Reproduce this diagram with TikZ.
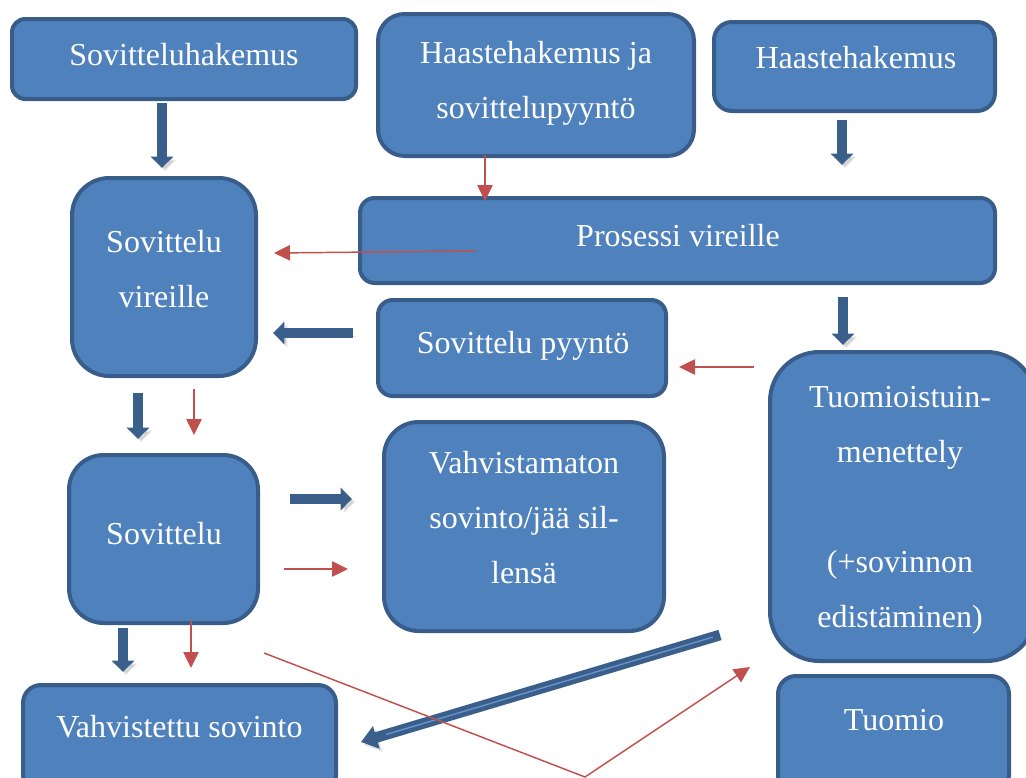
\documentclass[tikz,border=0pt]{standalone}
\usepackage{fontspec}
\setmainfont{Liberation Serif}
\usetikzlibrary{arrows.meta,calc}
\definecolor{boxfill}{HTML}{4F81BD}
\definecolor{boxline}{HTML}{385D8A}
\definecolor{bluearrow}{HTML}{3A5F8B}
\definecolor{redarrow}{HTML}{C0504D}
\definecolor{shaftlight}{HTML}{6A95CC}
\begin{document}
\begin{tikzpicture}[x=0.75pt,y=-0.75pt,
  box/.style={draw=boxline, fill=boxfill, line width=3pt, inner sep=0pt, outer sep=0pt},
  lbl/.style={text=white, font=\fontsize{24}{41.25}\selectfont, align=center, inner sep=0pt},
  arrshadow/.style={preaction={draw=black!60, fill=black!60, opacity=0.18, transform canvas={shift={(2.2pt,-2.2pt)}}}},
  bluearr/.style={draw=bluearrow, line width=7.5pt, -{Triangle[width=16.5pt,length=8.5pt]}, arrshadow},
  redarr/.style={draw=redarrow, line width=1.1pt, -{Triangle[width=11.5pt,length=12pt]}}]
\useasboundingbox (0,0) rectangle (1026,778);
\clip (0,0) rectangle (1026,778);

% boxes
\node[box, rounded corners=10pt, minimum width=258pt, minimum height=60pt] (b1) at (184,59) {};
\node[box, rounded corners=20pt, minimum width=237pt, minimum height=106.5pt] (b2) at (536,85) {};
\node[box, rounded corners=13.5pt, minimum width=210.75pt, minimum height=66.75pt] (b3) at (854.5,66.5) {};
\node[box, rounded corners=28pt, minimum width=138pt, minimum height=148.5pt] (b4) at (164,277) {};
\node[box, rounded corners=11pt, minimum width=476.25pt, minimum height=63.75pt] (b5) at (677.5,240.5) {};
\node[box, rounded corners=11pt, minimum width=216pt, minimum height=72pt] (b6) at (522,348) {};
\node[box, rounded corners=37pt, minimum width=199.5pt, minimum height=231.75pt] (b7) at (903,506.5) {};
\node[box, rounded corners=26pt, minimum width=141.75pt, minimum height=126pt] (b8) at (163.5,539) {};
\node[box, rounded corners=26pt, minimum width=210pt, minimum height=156.75pt] (b9) at (524,526.5) {};
\node[box, rounded corners=13.5pt, minimum width=234.75pt, minimum height=81pt] (b10) at (179.5,739) {};
\node[box, rounded corners=13.5pt, minimum width=173.25pt, minimum height=87.75pt] (b11) at (893.5,734.5) {};

% labels
\node[lbl, anchor=base] (t1) at (184,65) {Sovitteluhakemus};
\node[lbl] (t2) at (536,83) {Haastehakemus ja\\sovittelupyyntö};
\node[lbl, anchor=base] (t3) at (856,68) {Haastehakemus};
\node[lbl] (t4) at (164,268.6) {Sovittelu\\vireille};
\node[lbl, anchor=base] (t5) at (678,246) {Prosessi vireille};
\node[lbl, anchor=base] (t6) at (523,353) {Sovittelu pyyntö};
\node[lbl] (t7) at (900,510) {Tuomioistuin-\\menettely\\[41.25pt](+sovinnon\\edistäminen)};
\node[lbl, anchor=base] (t8) at (164,544) {Sovittelu};
\node[lbl] (t9) at (524,518) {Vahvistamaton\\sovinto/jää sil-\\lensä};
\node[lbl, anchor=base] (t10) at (179.5,737) {Vahvistettu sovinto};
\node[lbl, anchor=base] (t11) at (894,730) {Tuomio};

% arrow end points
\coordinate (A1) at (162,103); \coordinate (A2) at (162,168);
\coordinate (B1) at (842,120); \coordinate (B2) at (842,165);
\coordinate (C1) at (843,297); \coordinate (C2) at (843,345);
\coordinate (D1) at (353,333); \coordinate (D2) at (273,333);
\coordinate (E1) at (138,393); \coordinate (E2) at (138,439);
\coordinate (F1) at (290,499); \coordinate (F2) at (352,499);
\coordinate (G1) at (123,628); \coordinate (G2) at (123,672);
\coordinate (H1) at (720,635); \coordinate (H2) at (361,742);

\coordinate (ra1) at (485,155); \coordinate (ra2) at (485,201);
\coordinate (rb1) at (476,251); \coordinate (rb2) at (274,253);
\coordinate (rc1) at (754,367); \coordinate (rc2) at (679,367);
\coordinate (rd1) at (194,389); \coordinate (rd2) at (194,435);
\coordinate (re1) at (284,569); \coordinate (re2) at (348,569);
\coordinate (rf1) at (191,621); \coordinate (rf2) at (191,668);
\coordinate (rg1) at (264,653); \coordinate (rg2) at (585,777); \coordinate (rg3) at (750,667);

% blue block arrows
\foreach \s/\e in {A1/A2,B1/B2,C1/C2,D1/D2,E1/E2,F1/F2,G1/G2}
  \draw[bluearr] (\s) -- (\e);
\draw[bluearr, line width=8pt, -{Triangle[width=17pt,length=12pt]}] (H1) -- (H2);
\draw[shaftlight, line width=1pt] ($(H1)!0.02!(H2)$) -- ($(H1)!0.93!(H2)$);

% red thin arrows
\foreach \s/\e in {ra1/ra2,rb1/rb2,rc1/rc2,rd1/rd2,re1/re2,rf1/rf2}
  \draw[redarr] (\s) -- (\e);
\draw[redarr] (rg1) -- (rg2) -- (rg3);
\end{tikzpicture}
\end{document}
